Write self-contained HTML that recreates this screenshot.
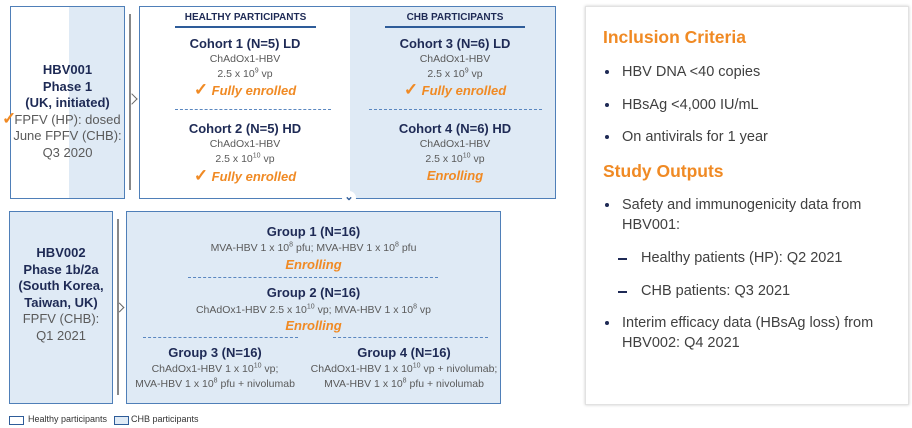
<!DOCTYPE html>
<html><head><meta charset="utf-8"><style>
body{margin:0;width:912px;height:428px;background:#fff;position:relative;overflow:hidden;font-family:"Liberation Sans",sans-serif}
.a{position:absolute}
.c{position:absolute;text-align:center;white-space:nowrap}
.t{color:#1e2a55;font-weight:bold;font-size:13px;line-height:16px}
.s{color:#5a5a5a;font-size:10.5px;line-height:15px}
.o{color:#f08a24;font-weight:bold;font-style:italic;font-size:13px;line-height:16px}
.lb{font-size:13px;line-height:16.5px;text-align:center;position:absolute;white-space:nowrap}
.lb b{color:#1e2a55}.lb span{color:#5a5a5a}
.box{position:absolute;border:1.5px solid #4f7fb8;box-sizing:border-box}
.dash{position:absolute;border-top:1.5px dashed #5a87c0;height:0}
.r{position:absolute;color:#404040;font-size:14.5px;line-height:20px;white-space:nowrap}
.h{position:absolute;color:#f08a24;font-weight:bold;font-size:17.5px;white-space:nowrap}
.d{position:absolute;width:4px;height:4px;border-radius:50%;background:#1e2a55}
.chk{color:#f08a24;font-size:17px;font-weight:bold;font-style:normal}
sup{font-size:7px;line-height:0}
</style></head><body>
<div class="box" style="left:10px;top:6px;width:115px;height:193px;background:linear-gradient(to right,#fff 0,#fff 58px,#dfeaf5 58px)"></div>
<div class="lb" style="left:10px;width:115px;top:62px"><b>HBV001<br>Phase 1<br>(UK, initiated)</b><br><span>FPFV (HP): dosed<br>June FPFV (CHB):<br>Q3 2020</span></div>
<div class="a chk" style="left:2px;top:109px">✓</div>
<div class="a" style="left:129px;top:14px;width:2px;height:176px;background:#888"></div>
<div class="a" style="left:128px;top:95px;width:7px;height:7px;border-right:1px solid #666;border-top:1px solid #666;transform:rotate(45deg)"></div>
<div class="box" style="left:139px;top:6px;width:417px;height:193px;background:linear-gradient(to right,#fff 0,#fff 210px,#dfeaf5 210px)"></div>
<div class="c" style="left:175px;width:141px;top:12px;font-size:10px;font-weight:bold;color:#1e2a55">HEALTHY PARTICIPANTS</div>
<div class="a" style="left:175px;top:26px;width:141px;height:2px;background:#2e5c99"></div>
<div class="c" style="left:385px;width:140px;top:12px;font-size:10px;font-weight:bold;color:#1e2a55">CHB PARTICIPANTS</div>
<div class="a" style="left:385px;top:26px;width:140px;height:2px;background:#2e5c99"></div>

<div class="c t" style="left:145px;width:200px;top:36px">Cohort 1 (N=5) LD</div>
<div class="c s" style="left:145px;width:200px;top:52px">ChAdOx1-HBV</div>
<div class="c s" style="left:145px;width:200px;top:67px">2.5 x 10<sup>9</sup> vp</div>
<div class="c o" style="left:145px;width:200px;top:82px"><span class="chk">✓</span> Fully enrolled</div>

<div class="c t" style="left:355px;width:200px;top:36px">Cohort 3 (N=6) LD</div>
<div class="c s" style="left:355px;width:200px;top:52px">ChAdOx1-HBV</div>
<div class="c s" style="left:355px;width:200px;top:67px">2.5 x 10<sup>9</sup> vp</div>
<div class="c o" style="left:355px;width:200px;top:82px"><span class="chk">✓</span> Fully enrolled</div>

<div class="dash" style="left:175px;top:109px;width:156px"></div>
<div class="dash" style="left:369px;top:109px;width:173px"></div>

<div class="c t" style="left:145px;width:200px;top:121px">Cohort 2 (N=5) HD</div>
<div class="c s" style="left:145px;width:200px;top:137px">ChAdOx1-HBV</div>
<div class="c s" style="left:145px;width:200px;top:152px">2.5 x 10<sup>10</sup> vp</div>
<div class="c o" style="left:145px;width:200px;top:168px"><span class="chk">✓</span> Fully enrolled</div>

<div class="c t" style="left:355px;width:200px;top:121px">Cohort 4 (N=6) HD</div>
<div class="c s" style="left:355px;width:200px;top:137px">ChAdOx1-HBV</div>
<div class="c s" style="left:355px;width:200px;top:152px">2.5 x 10<sup>10</sup> vp</div>
<div class="c o" style="left:355px;width:200px;top:168px">Enrolling</div>
<div class="a" style="left:342px;top:191px;width:14px;height:14px;border-radius:50%;background:#fff;text-align:center;color:#2e5c99;font-size:11px;line-height:12px;font-weight:bold">⌄</div>

<div class="box" style="left:9px;top:211px;width:104px;height:193px;background:#dfeaf5"></div>
<div class="lb" style="left:9px;width:104px;top:245px"><b>HBV002<br>Phase 1b/2a<br>(South Korea,<br>Taiwan, UK)</b><br><span>FPFV (CHB):<br>Q1 2021</span></div>
<div class="a" style="left:117px;top:219px;width:2px;height:176px;background:#888"></div>
<div class="a" style="left:116px;top:304px;width:6px;height:6px;border-right:1px solid #666;border-top:1px solid #666;transform:rotate(45deg)"></div>
<div class="box" style="left:126px;top:211px;width:375px;height:193px;background:#dfeaf5"></div>

<div class="c t" style="left:126px;width:375px;top:224px">Group 1 (N=16)</div>
<div class="c s" style="left:126px;width:375px;top:241px">MVA-HBV 1 x 10<sup>8</sup> pfu; MVA-HBV 1 x 10<sup>8</sup> pfu</div>
<div class="c o" style="left:126px;width:375px;top:257px">Enrolling</div>
<div class="dash" style="left:188px;top:277px;width:250px"></div>
<div class="c t" style="left:126px;width:375px;top:285px">Group 2 (N=16)</div>
<div class="c s" style="left:126px;width:375px;top:303px">ChAdOx1-HBV 2.5 x 10<sup>10</sup> vp; MVA-HBV 1 x 10<sup>8</sup> vp</div>
<div class="c o" style="left:126px;width:375px;top:318px">Enrolling</div>
<div class="dash" style="left:143px;top:337px;width:155px"></div>
<div class="dash" style="left:333px;top:337px;width:155px"></div>
<div class="c t" style="left:115px;width:200px;top:345px">Group 3 (N=16)</div>
<div class="c s" style="left:115px;width:200px;top:362px">ChAdOx1-HBV 1 x 10<sup>10</sup> vp;<br>MVA-HBV 1 x 10<sup>8</sup> pfu + nivolumab</div>
<div class="c t" style="left:304px;width:200px;top:345px">Group 4 (N=16)</div>
<div class="c s" style="left:304px;width:200px;top:362px">ChAdOx1-HBV 1 x 10<sup>10</sup> vp + nivolumab;<br>MVA-HBV 1 x 10<sup>8</sup> pfu + nivolumab</div>

<div class="a" style="left:9px;top:416px;width:13px;height:7px;border:1px solid #2e5c99;background:#fff"></div>
<div class="a" style="left:28px;top:414px;font-size:9px;color:#333;white-space:nowrap">Healthy participants</div>
<div class="a" style="left:114px;top:416px;width:13px;height:7px;border:1px solid #2e5c99;background:#dfeaf5"></div>
<div class="a" style="left:131px;top:414px;font-size:9px;color:#333;white-space:nowrap">CHB participants</div>

<div class="a" style="left:585px;top:6px;width:322px;height:397px;background:#fff;border:1px solid #e2e2e2;box-shadow:0 0 3px rgba(0,0,0,0.2)"></div>
<div class="h" style="left:603px;top:27px">Inclusion Criteria</div>
<div class="d" style="left:605px;top:70px"></div>
<div class="r" style="left:622px;top:62px">HBV DNA &lt;40 copies</div>
<div class="d" style="left:605px;top:103px"></div>
<div class="r" style="left:622px;top:95px">HBsAg &lt;4,000 IU/mL</div>
<div class="d" style="left:605px;top:135px"></div>
<div class="r" style="left:622px;top:127px">On antivirals for 1 year</div>
<div class="h" style="left:603px;top:161px">Study Outputs</div>
<div class="d" style="left:605px;top:203px"></div>
<div class="r" style="left:622px;top:195px">Safety and immunogenicity data from<br>HBV001:</div>
<div class="a" style="left:618px;top:258px;width:9px;height:1.5px;background:#1e2a55"></div>
<div class="r" style="left:641px;top:248px">Healthy patients (HP): Q2 2021</div>
<div class="a" style="left:618px;top:291px;width:9px;height:1.5px;background:#1e2a55"></div>
<div class="r" style="left:641px;top:281px">CHB patients: Q3 2021</div>
<div class="d" style="left:605px;top:321px"></div>
<div class="r" style="left:622px;top:313px">Interim efficacy data (HBsAg loss) from<br>HBV002: Q4 2021</div>
</body></html>
